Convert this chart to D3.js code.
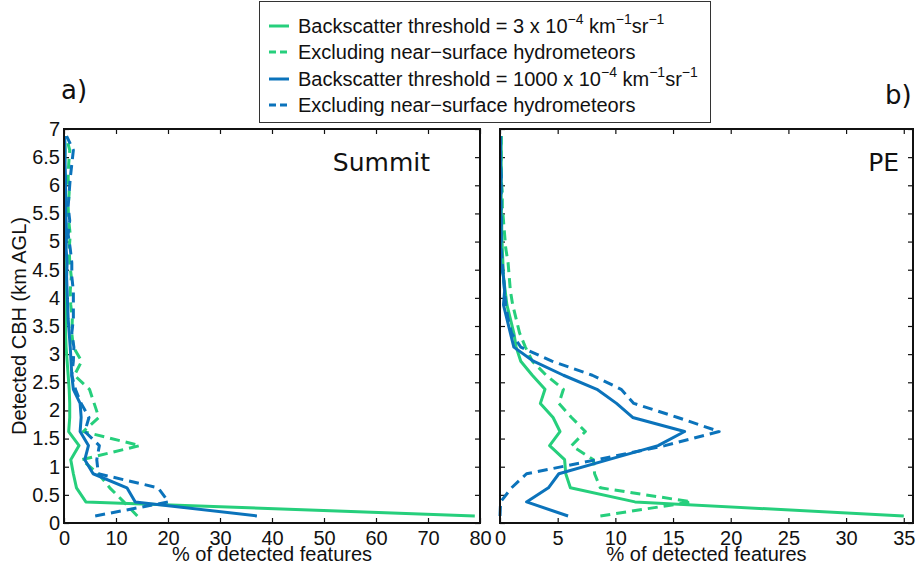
<!DOCTYPE html>
<html lang="en">

<head>
  <meta charset="UTF-8">
  <title>Detected CBH profiles</title>
  <script src="https://d3js.org/d3.v7.min.js"></script>
  <style>
    body {
      margin: 0;
      background: #fff;
    }

    svg text {
      font-family: "Liberation Sans", Arial, sans-serif;
      fill: #111;
    }

    .tick line {
      stroke: #111;
      stroke-width: 1.2;
    }

    .tick text {
      font-size: 20px;
    }

    .series {
      fill: none;
      stroke-width: 3;
      stroke-linejoin: round;
    }

    .panel-title {
      font-family: "DejaVu Sans", sans-serif !important;
    }
  </style>
</head>

<body>
  <div id="chart"></div>

  <script>
    // bin centres (km AGL)
    const altitudes = [0.125, 0.375, 0.625, 0.875, 1.125, 1.375, 1.625, 1.875, 2.125, 2.375,
      2.625, 2.875, 3.125, 3.375, 3.625, 3.875, 4.125, 4.375, 4.625, 4.875,
      5.125, 5.375, 5.625, 5.875, 6.125, 6.375, 6.625, 6.875];

    // Summit (% of detected features)
    const summitLow = [79, 4.2, 2.4, 1.8, 1.3, 2.9, 0.9, 1.1, 1.1, 1.0, 0.8, 0.6, 0.4, 0.3,
      0.3, 0.3, 0.2, 0.3, 0.2, 0.2, 0.2, 0.3, 0.2, 0.2, 0.1, 0.1, 0.2, 0.1];
    const summitLowExcl = [14.1, 11.5, 8.8, 6.6, 3.4, 14.6, 3.7, 6.7, 5.8, 4.9, 2.0, 3.4, 1.8, 1.5,
      1.6, 1.3, 1.2, 1.4, 1.1, 1.0, 1.2, 0.9, 0.8, 1.0, 0.8, 0.9, 1.1, 0.4];
    const summitHigh = [37.1, 13.7, 12.1, 5.6, 4.0, 4.7, 3.1, 3.3, 3.1, 1.8, 1.5, 1.35, 1.2, 1.0,
      0.8, 0.7, 0.6, 0.5, 0.6, 0.4, 0.5, 0.4, 0.3, 0.3, 0.3, 0.2, 0.2, 0.1];
    const summitHighExcl = [6.0, 20.1, 18.1, 6.6, 6.3, 6.8, 4.0, 4.8, 3.3, 2.2, 1.5, 1.8, 1.9, 1.5,
      1.8, 1.8, 1.8, 1.5, 1.5, 1.2, 0.8, 1.1, 0.8, 1.0, 1.2, 1.5, 1.8, 0.5];

    // PE (% of detected features)
    const peLow = [35.0, 11.7, 6.1, 5.7, 5.6, 4.3, 5.2, 4.6, 3.5, 3.9, 2.8, 1.8, 1.4, 1.2,
      0.9, 0.6, 0.45, 0.3, 0.25, 0.2, 0.15, 0.15, 0.1, 0.1, 0.1, 0.1, 0.1, 0.1];
    const peLowExcl = [8.7, 16.6, 8.7, 8.2, 8.1, 6.2, 7.4, 6.2, 5.1, 5.5, 4.0, 2.8, 2.2, 1.7,
      1.4, 1.1, 0.9, 0.8, 0.7, 0.5, 0.4, 0.3, 0.2, 0.2, 0.1, 0.1, 0.1, 0.1];
    const peHigh = [5.9, 2.3, 4.2, 5.1, 9.4, 13.7, 16.0, 11.5, 10.1, 8.4, 5.5, 2.9, 1.2, 0.9,
      0.6, 0.3, 0.4, 0.3, 0.05, 0.05, 0.1, 0.1, 0.05, 0.05, 0.1, 0.05, 0.05, 0.05];
    const peHighExcl = [0.0, 0.05, 1.0, 2.3, 8.4, 14.3, 19.0, 15.4, 11.6, 10.5, 8.0, 4.5, 1.8, 1.0,
      0.7, 0.5, 0.4, 0.3, 0.2, 0.1, 0.1, 0.1, 0.1, 0.1, 0.1, 0.05, 0.05, 0.05];

    const yTicks = [0, 0.5, 1, 1.5, 2, 2.5, 3, 3.5, 4, 4.5, 5, 5.5, 6, 6.5, 7];
    const yTickLabels = ["0", "0.5", "1", "1.5", "2", "2.5", "3", "3.5", "4", "4.5", "5", "5.5", "6", "6.5", "7"];
    const summitXTicks = [0, 10, 20, 30, 40, 50, 60, 70, 80];
    const peXTicks = [0, 5, 10, 15, 20, 25, 30, 35];

    const legendLabels = [
      ["Backscatter threshold = 3 x 10", "−4", " km", "−1", "sr", "−1"],
      ["Excluding near−surface hydrometeors"],
      ["Backscatter threshold = 1000 x 10", "−4", " km", "−1", "sr", "−1"],
      ["Excluding near−surface hydrometeors"]
    ];

    const green = "#26cf7c";
    const blue = "#0b73bb";
    const styles = [
      { color: green, dash: null },
      { color: green, dash: "10,6" },
      { color: blue, dash: null },
      { color: blue, dash: "10,6" }
    ];

    const width = 917, height = 565;
    const plotTop = 129, plotBottom = 523;

    const svg = d3.select("#chart").append("svg")
      .attr("width", width)
      .attr("height", height);

    const y = d3.scaleLinear().domain([0, 7]).range([plotBottom, plotTop]);

    function drawPanel(left, right, xMax, xTicks, series, showYLabels, title, titleX) {
      const x = d3.scaleLinear().domain([0, xMax]).range([left, right]);
      const g = svg.append("g");

      // bottom axis with labels, inward ticks
      g.append("g")
        .attr("transform", `translate(0,${plotBottom})`)
        .call(d3.axisBottom(x).tickValues(xTicks).tickSizeInner(-5).tickSizeOuter(0).tickPadding(8))
        .call(a => a.select(".domain").remove());

      // top axis mirror
      g.append("g")
        .attr("transform", `translate(0,${plotTop})`)
        .call(d3.axisTop(x).tickValues(xTicks).tickSizeInner(-5).tickSizeOuter(0).tickFormat(""))
        .call(a => a.select(".domain").remove());

      const yAxis = d3.axisLeft(y).tickValues(yTicks).tickSizeInner(-5).tickSizeOuter(0).tickPadding(4)
        .tickFormat((d, i) => showYLabels ? yTickLabels[i] : "");
      g.append("g")
        .attr("transform", `translate(${left},0)`)
        .call(yAxis)
        .call(a => a.select(".domain").remove());

      g.append("g")
        .attr("transform", `translate(${right},0)`)
        .call(d3.axisRight(y).tickValues(yTicks).tickSizeInner(-5).tickSizeOuter(0).tickFormat(""))
        .call(a => a.select(".domain").remove());

      const line = d3.line()
        .x(d => x(d[0]))
        .y(d => y(d[1]));

      series.forEach((vals, i) => {
        g.append("path")
          .datum(vals.map((v, j) => [v, altitudes[j]]))
          .attr("class", "series")
          .attr("stroke", styles[i].color)
          .attr("stroke-dasharray", styles[i].dash)
          .attr("d", line);
      });

      // frame
      g.append("rect")
        .attr("x", left)
        .attr("y", plotTop)
        .attr("width", right - left)
        .attr("height", plotBottom - plotTop)
        .attr("fill", "none")
        .attr("stroke", "#111")
        .attr("stroke-width", 2);

      g.append("text")
        .attr("x", (left + right) / 2)
        .attr("y", 561)
        .attr("text-anchor", "middle")
        .attr("font-size", "20px")
        .text("% of detected features");

      g.append("text")
        .attr("class", "panel-title")
        .attr("x", titleX)
        .attr("y", 171)
        .attr("text-anchor", "end")
        .attr("font-size", "25px")
        .text(title);
    }

    drawPanel(64, 480, 80, summitXTicks,
      [summitLow, summitLowExcl, summitHigh, summitHighExcl], true, "Summit", 430);
    drawPanel(500, 913, 35.8, peXTicks,
      [peLow, peLowExcl, peHigh, peHighExcl], false, "PE", 899);

    // y axis label
    svg.append("text")
      .attr("transform", "translate(26,326) rotate(-90)")
      .attr("text-anchor", "middle")
      .attr("font-size", "20px")
      .text("Detected CBH (km AGL)");

    // panel letters
    svg.append("text")
      .attr("class", "panel-title")
      .attr("x", 61)
      .attr("y", 99)
      .attr("font-size", "26px")
      .text("a)");
    svg.append("text")
      .attr("class", "panel-title")
      .attr("x", 885)
      .attr("y", 104)
      .attr("font-size", "26px")
      .text("b)");

    // legend
    const legend = svg.append("g");
    legend.append("rect")
      .attr("x", 259.5)
      .attr("y", 1.5)
      .attr("width", 451)
      .attr("height", 121)
      .attr("fill", "#fff")
      .attr("stroke", "#333")
      .attr("stroke-width", 1);

    const rowY = [26, 52, 79, 105];
    legendLabels.forEach((parts, i) => {
      legend.append("line")
        .attr("x1", 269).attr("x2", 289)
        .attr("y1", rowY[i]).attr("y2", rowY[i])
        .attr("stroke", styles[i].color)
        .attr("stroke-width", 3)
        .attr("stroke-dasharray", styles[i].dash ? "7,4" : null);

      const t = legend.append("text")
        .attr("x", 298)
        .attr("y", rowY[i] + 7)
        .attr("font-size", "20px");
      parts.forEach((p, k) => {
        const sup = k % 2 === 1;
        t.append("tspan")
          .attr("dy", k === 0 ? 0 : (sup ? -9 : 9))
          .attr("font-size", sup ? "14px" : "20px")
          .text(p);
      });
    });
  </script>
</body>

</html>
